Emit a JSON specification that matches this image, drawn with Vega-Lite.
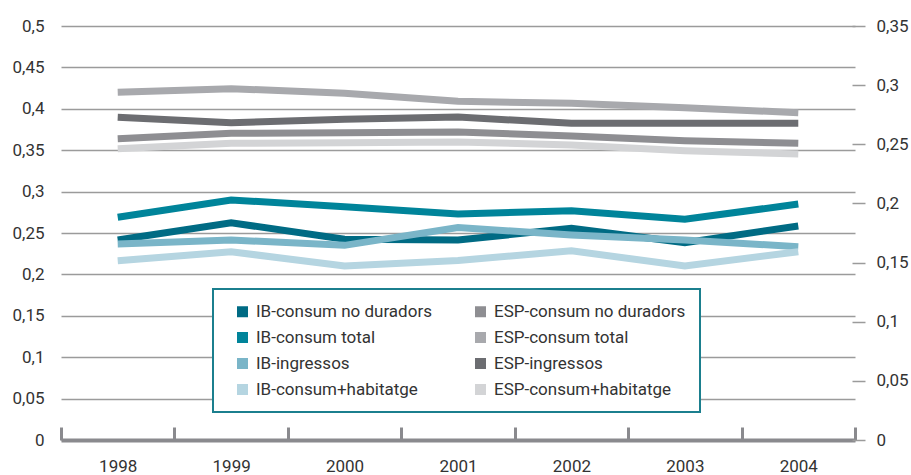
{
  "$schema": "https://vega.github.io/schema/vega-lite/v6.json",
  "width": 794,
  "height": 414,
  "autosize": {"type": "none"},
  "padding": {"left": 61, "top": 26, "right": 56, "bottom": 35},
  "background": "white",
  "config": {"view": {"stroke": null}, "font": "Roboto"},
  "data": {"values": [
    {"series": "IB-consum no duradors", "year": "1998", "value": 0.2415},
    {"series": "IB-consum no duradors", "year": "1999", "value": 0.2624},
    {"series": "IB-consum no duradors", "year": "2000", "value": 0.2424},
    {"series": "IB-consum no duradors", "year": "2001", "value": 0.2415},
    {"series": "IB-consum no duradors", "year": "2002", "value": 0.2557},
    {"series": "IB-consum no duradors", "year": "2003", "value": 0.2383},
    {"series": "IB-consum no duradors", "year": "2004", "value": 0.2585},
    {"series": "IB-consum total", "year": "1998", "value": 0.269},
    {"series": "IB-consum total", "year": "1999", "value": 0.2899},
    {"series": "IB-consum total", "year": "2000", "value": 0.2818},
    {"series": "IB-consum total", "year": "2001", "value": 0.273},
    {"series": "IB-consum total", "year": "2002", "value": 0.2769},
    {"series": "IB-consum total", "year": "2003", "value": 0.2665},
    {"series": "IB-consum total", "year": "2004", "value": 0.285},
    {"series": "IB-ingressos", "year": "1998", "value": 0.2367},
    {"series": "IB-ingressos", "year": "1999", "value": 0.2415},
    {"series": "IB-ingressos", "year": "2000", "value": 0.2351},
    {"series": "IB-ingressos", "year": "2001", "value": 0.2566},
    {"series": "IB-ingressos", "year": "2002", "value": 0.2476},
    {"series": "IB-ingressos", "year": "2003", "value": 0.2415},
    {"series": "IB-ingressos", "year": "2004", "value": 0.2335},
    {"series": "IB-consum+habitatge", "year": "1998", "value": 0.2165},
    {"series": "IB-consum+habitatge", "year": "1999", "value": 0.2274},
    {"series": "IB-consum+habitatge", "year": "2000", "value": 0.2101},
    {"series": "IB-consum+habitatge", "year": "2001", "value": 0.2168},
    {"series": "IB-consum+habitatge", "year": "2002", "value": 0.2286},
    {"series": "IB-consum+habitatge", "year": "2003", "value": 0.2101},
    {"series": "IB-consum+habitatge", "year": "2004", "value": 0.2274},
    {"series": "ESP-consum no duradors", "year": "1998", "value": 0.3639},
    {"series": "ESP-consum no duradors", "year": "1999", "value": 0.3704},
    {"series": "ESP-consum no duradors", "year": "2000", "value": 0.3711},
    {"series": "ESP-consum no duradors", "year": "2001", "value": 0.372},
    {"series": "ESP-consum no duradors", "year": "2002", "value": 0.3671},
    {"series": "ESP-consum no duradors", "year": "2003", "value": 0.3615},
    {"series": "ESP-consum no duradors", "year": "2004", "value": 0.3583},
    {"series": "ESP-consum total", "year": "1998", "value": 0.42},
    {"series": "ESP-consum total", "year": "1999", "value": 0.4243},
    {"series": "ESP-consum total", "year": "2000", "value": 0.4187},
    {"series": "ESP-consum total", "year": "2001", "value": 0.409},
    {"series": "ESP-consum total", "year": "2002", "value": 0.4067},
    {"series": "ESP-consum total", "year": "2003", "value": 0.4013},
    {"series": "ESP-consum total", "year": "2004", "value": 0.3953},
    {"series": "ESP-ingressos", "year": "1998", "value": 0.3897},
    {"series": "ESP-ingressos", "year": "1999", "value": 0.3832},
    {"series": "ESP-ingressos", "year": "2000", "value": 0.3873},
    {"series": "ESP-ingressos", "year": "2001", "value": 0.39},
    {"series": "ESP-ingressos", "year": "2002", "value": 0.3825},
    {"series": "ESP-ingressos", "year": "2003", "value": 0.3825},
    {"series": "ESP-ingressos", "year": "2004", "value": 0.3825},
    {"series": "ESP-consum+habitatge", "year": "1998", "value": 0.3518},
    {"series": "ESP-consum+habitatge", "year": "1999", "value": 0.3583},
    {"series": "ESP-consum+habitatge", "year": "2000", "value": 0.3591},
    {"series": "ESP-consum+habitatge", "year": "2001", "value": 0.36},
    {"series": "ESP-consum+habitatge", "year": "2002", "value": 0.3563},
    {"series": "ESP-consum+habitatge", "year": "2003", "value": 0.3494},
    {"series": "ESP-consum+habitatge", "year": "2004", "value": 0.3454}
  ]},
  "layer": [
    {
      "mark": {"type": "line", "strokeWidth": 7, "strokeCap": "butt"},
      "encoding": {
        "x": {
          "field": "year", "type": "ordinal", "bandPosition": 0.5,
          "scale": {"type": "band", "paddingInner": 0, "paddingOuter": 0},
          "axis": {
            "title": null, "tickBand": "extent", "labelAngle": 0,
            "domainColor": "#8a8a8e", "domainWidth": 4,
            "tickColor": "#8a8a8e", "tickWidth": 3, "tickSize": -13,
            "labelPadding": 31, "labelFontSize": 17, "labelColor": "#333333", "grid": false
          }
        },
        "y": {
          "field": "value", "type": "quantitative",
          "scale": {"domain": [0, 0.5]},
          "axis": {
            "title": null,
            "values": [0, 0.05, 0.1, 0.15, 0.2, 0.25, 0.3, 0.35, 0.4, 0.45, 0.5],
            "labelExpr": "replace(format(datum.value, '.2~f'), '.', ',')",
            "ticks": false, "domain": false, "grid": true,
            "gridColor": "#9b9b9b", "gridWidth": 1.5,
            "labelPadding": 17, "labelFontSize": 17, "labelColor": "#333333"
          }
        },
        "color": {
          "field": "series", "type": "nominal",
          "scale": {
            "domain": ["IB-consum no duradors", "IB-consum total", "IB-ingressos", "IB-consum+habitatge", "ESP-consum no duradors", "ESP-consum total", "ESP-ingressos", "ESP-consum+habitatge"],
            "range": ["#006b84", "#00849a", "#7ab5c8", "#b5d5e1", "#8e8e92", "#a8a9ad", "#6c6d71", "#d3d4d6"]
          },
          "legend": {
            "orient": "none", "legendX": 152, "legendY": 263,
            "columns": 2, "title": null,
            "symbolType": "square", "symbolSize": 121, "symbolOffset": 7,
            "labelFontSize": 17, "labelColor": "#333333", "labelLimit": 300,
            "rowPadding": 8, "columnPadding": 33, "padding": 14,
            "strokeColor": "#1b7f8e", "fillColor": "white",
            "labelOffset": 5,
            "encode": {
              "symbols": {"update": {"fill": {"scale": "color", "field": "value"}, "strokeWidth": {"value": 0}, "opacity": {"value": 1}}},
              "legend": {"update": {"strokeWidth": {"value": 2}}}
            }
          }
        }
      }
    },
    {
      "mark": {"type": "point", "opacity": 0},
      "encoding": {
        "x": {"field": "year", "type": "ordinal", "bandPosition": 0.5},
        "y": {
          "field": "value", "type": "quantitative",
          "scale": {"domain": [0, 0.35]},
          "axis": {
            "orient": "right", "title": null,
            "values": [0, 0.05, 0.1, 0.15, 0.2, 0.25, 0.3, 0.35],
            "labelExpr": "replace(format(datum.value, '.2~f'), '.', ',')",
            "domain": false, "grid": false,
            "tickSize": 13, "tickColor": "#9b9b9b", "tickWidth": 1.5,
            "offset": -3, "labelPadding": 11,
            "labelFontSize": 17, "labelColor": "#333333"
          }
        }
      }
    }
  ],
  "resolve": {"scale": {"y": "independent"}}
}
